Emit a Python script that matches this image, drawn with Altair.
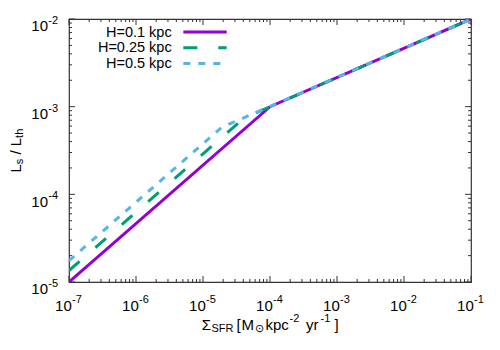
import altair as alt
import pandas as pd

# ---- data ----
names = ["H=0.1 kpc", "H=0.25 kpc", "H=0.5 kpc"]
colors = ["#9400D3", "#009E73", "#56B4E9"]

sfr_h01 = [1e-7, 1.0e-4, 1e-1]
ls_h01 = [1.0e-5, 1.0e-3, 1e-2]
sfr_h025 = [1e-7, 4.1e-5, 1e-1]
ls_h025 = [1.35e-5, 7.4e-4, 1e-2]
sfr_h05 = [1e-7, 1.9e-5, 1e-1]
ls_h05 = [1.75e-5, 5.8e-4, 1e-2]

x_major = [1e-7, 1e-6, 1e-5, 1e-4, 1e-3, 1e-2, 1e-1]
x_exp = ["-7", "-6", "-5", "-4", "-3", "-2", "-1"]
y_major = [1e-5, 1e-4, 1e-3, 1e-2]
y_exp = ["-5", "-4", "-3", "-2"]
x_minor = [k * 10.0 ** e for e in range(-7, -1) for k in range(2, 10)]
y_minor = [k * 10.0 ** e for e in range(-5, -2) for k in range(2, 10)]

W, H = 402, 263
FONT = "Liberation Sans"
xs = alt.Scale(type="log", domain=[1e-7, 1e-1])
ys = alt.Scale(type="log", domain=[1e-5, 1e-2])

def series(xv, yv, color, dash=None):
    df = pd.DataFrame({"x": xv, "y": yv})
    kw = dict(strokeWidth=3, clip=True, color=color, strokeCap="butt")
    if dash:
        kw["strokeDash"] = dash
    return alt.Chart(df).mark_line(**kw).encode(
        x=alt.X("x:Q", scale=xs, axis=None),
        y=alt.Y("y:Q", scale=ys, axis=None),
    )

dashes = [None, [14, 21], [7, 8]]
lines = [
    series(sfr_h01, ls_h01, colors[0], dashes[0]),
    series(sfr_h025, ls_h025, colors[1], dashes[1]),
    series(sfr_h05, ls_h05, colors[2], dashes[2]),
]

tick_col = "#333333"

def xticks(vals, length):
    df = pd.DataFrame({"t": vals})
    base = alt.Chart(df).mark_rule(color=tick_col, strokeWidth=1)
    bottom = base.encode(x=alt.X("t:Q", scale=xs, axis=None), y=alt.value(H), y2=alt.value(H - length))
    top = base.encode(x=alt.X("t:Q", scale=xs, axis=None), y=alt.value(0), y2=alt.value(length))
    return [bottom, top]

def yticks(vals, length):
    df = pd.DataFrame({"t": vals})
    base = alt.Chart(df).mark_rule(color=tick_col, strokeWidth=1)
    left = base.encode(y=alt.Y("t:Q", scale=ys, axis=None), x=alt.value(0), x2=alt.value(length))
    right = base.encode(y=alt.Y("t:Q", scale=ys, axis=None), x=alt.value(W), x2=alt.value(W - length))
    return [left, right]

tick_layers = xticks(x_major, 6) + xticks(x_minor, 3) + yticks(y_major, 6) + yticks(y_minor, 3)

# tick labels: "10" plus superscript exponent
xl = pd.DataFrame({"t": x_major, "e": x_exp})
x_ten = alt.Chart(xl).mark_text(font=FONT, fontSize=15, align="center", dx=-5.6, color="black").encode(
    x=alt.X("t:Q", scale=xs, axis=None), y=alt.value(H + 24), text=alt.value("10"))
x_sup = alt.Chart(xl).mark_text(font=FONT, fontSize=11, align="left", dx=3, color="black").encode(
    x=alt.X("t:Q", scale=xs, axis=None), y=alt.value(H + 17.5), text="e:N")

yl = pd.DataFrame({"t": y_major, "e": y_exp})
y_ten = alt.Chart(yl).mark_text(font=FONT, fontSize=15, align="right", dx=-21, dy=7.4, color="black").encode(
    y=alt.Y("t:Q", scale=ys, axis=None), x=alt.value(0), text=alt.value("10"))
y_sup = alt.Chart(yl).mark_text(font=FONT, fontSize=11, align="right", dx=-11, dy=2, color="black").encode(
    y=alt.Y("t:Q", scale=ys, axis=None), x=alt.value(0), text="e:N")

one = pd.DataFrame({"a": [0]})

def txt(s, x, y, size=15, align="left", angle=None):
    kw = dict(font=FONT, fontSize=size, align=align, color="black")
    if angle is not None:
        kw["angle"] = angle
    return alt.Chart(one).mark_text(**kw).encode(x=alt.value(x), y=alt.value(y), text=alt.value(s))

# x axis title: Σ_SFR [M_⊙ kpc^-2 yr^-1]
bx = H + 43
x_title = [
    txt("Σ", 132.7, bx),
    txt("SFR", 142.5, bx + 4, 11),
    txt("[", 167.5, bx),
    txt("M", 172.5, bx),
    txt("⊙", 185.5, bx + 4, 11),
    txt("kpc", 196.5, bx),
    txt("-2", 220.5, bx - 6, 11),
    txt("yr", 237, bx),
    txt("-1", 251.5, bx - 6, 11),
    txt("]", 265.5, bx),
]

# y axis title: L_s / L_th (rotated)
ax = -53
y_title = [
    txt("L", ax, 153.5, 15, "left", 270),
    txt("s", ax + 3.5, 145.2, 11, "left", 270),
    txt("/", ax, 135.5, 15, "left", 270),
    txt("L", ax, 127.2, 15, "left", 270),
    txt("th", ax + 3.5, 118.9, 11, "left", 270),
]

# legend
leg_y = [13.0, 28.8, 44.6]
legend = []
for i in range(3):
    kw = dict(color=colors[i], strokeWidth=3, strokeCap="butt")
    if dashes[i]:
        kw["strokeDash"] = dashes[i]
    legend.append(alt.Chart(one).mark_rule(**kw).encode(
        x=alt.value(114.3), x2=alt.value(157.7), y=alt.value(leg_y[i])))
    legend.append(alt.Chart(one).mark_text(font=FONT, fontSize=14.5, align="right", baseline="middle", color="black").encode(
        x=alt.value(102.7), y=alt.value(leg_y[i] + 0.5), text=alt.value(names[i])))

chart = alt.layer(
    *tick_layers, *lines, x_ten, x_sup, y_ten, y_sup, *x_title, *y_title, *legend
).properties(
    width=W, height=H,
    padding={"left": 61, "top": 11, "right": 21, "bottom": 60},
    autosize=alt.AutoSizeParams(type="none"),
).configure_view(stroke="#333333", strokeWidth=1.2)

chart.save("out.html", embed_options={"renderer": "svg", "actions": False})
